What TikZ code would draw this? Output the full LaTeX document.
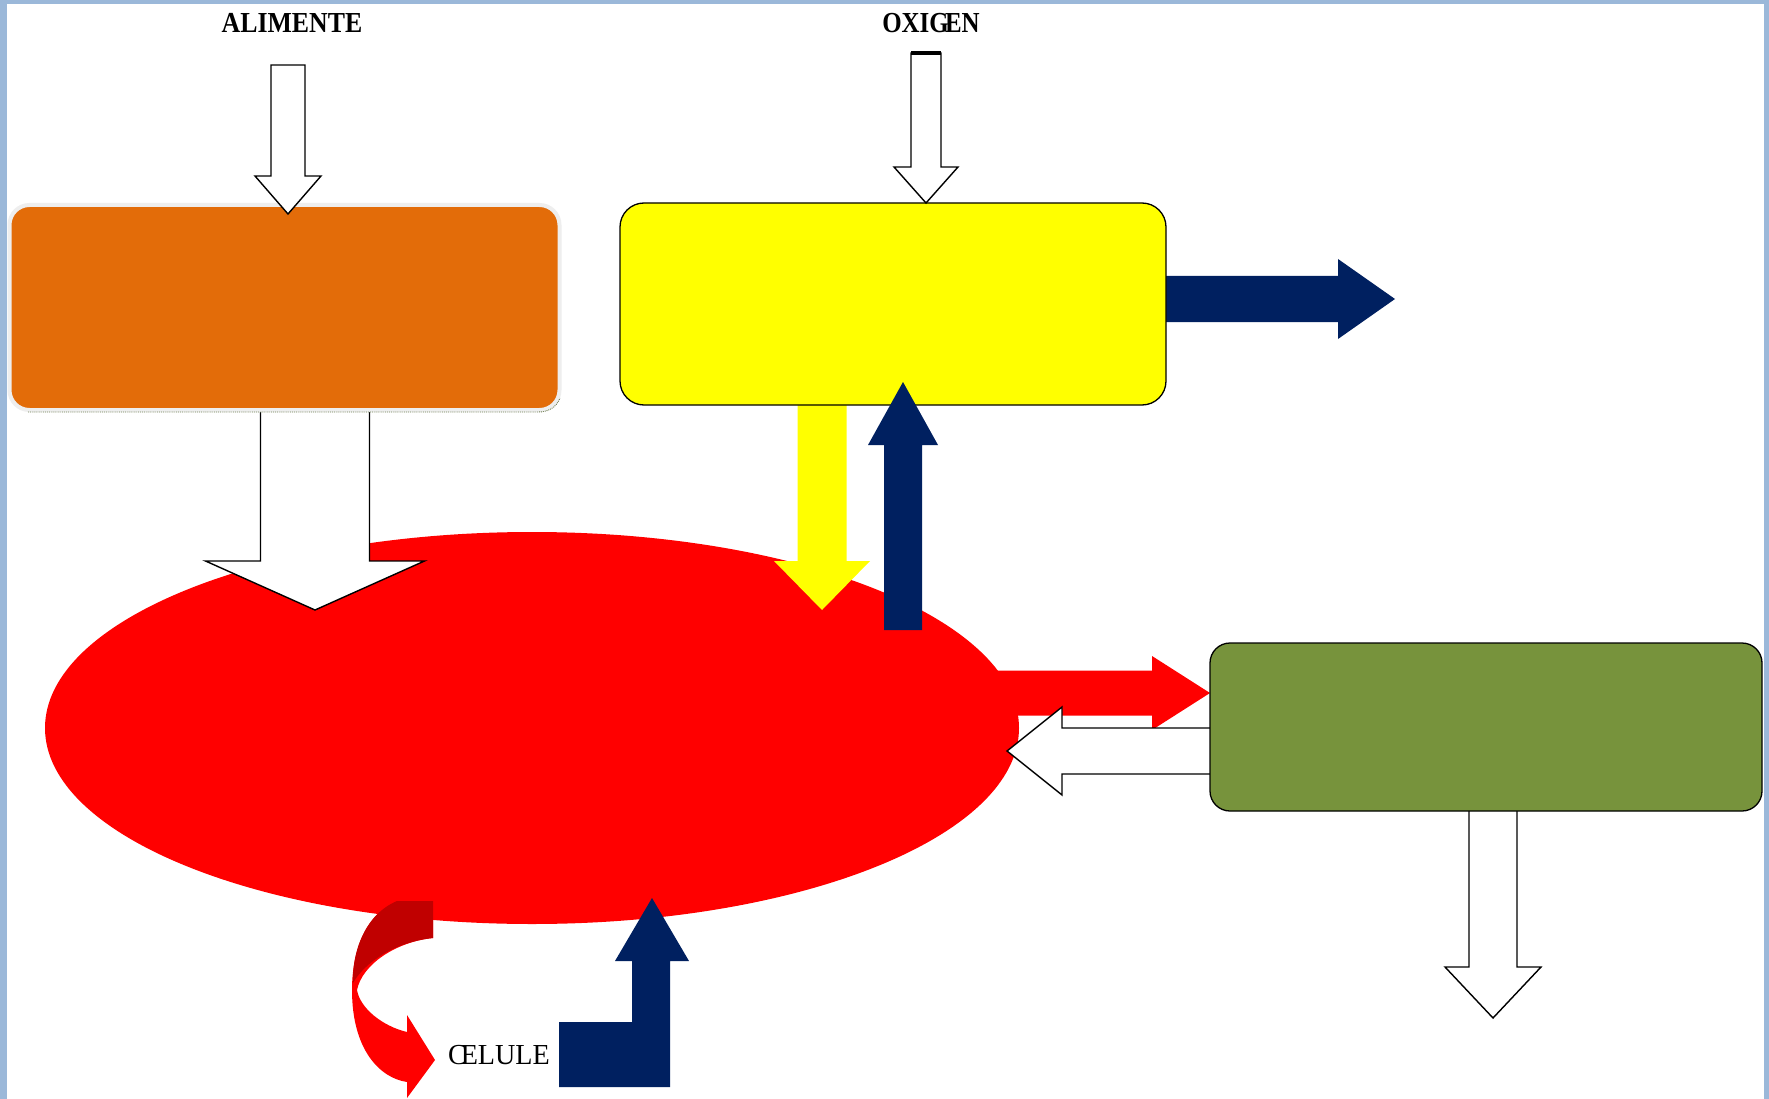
\documentclass[tikz,border=0pt]{standalone}
\usepackage{fontspec}
\setmainfont{Liberation Serif}
\usepackage{graphicx}
\usetikzlibrary{calc,shapes.geometric}
\definecolor{frameblue}{RGB}{155,184,217}
\definecolor{boxorange}{RGB}{227,108,9}
\definecolor{boxyellow}{RGB}{255,255,0}
\definecolor{boxgreen}{RGB}{119,147,60}
\definecolor{navyblue}{RGB}{0,32,96}
\definecolor{darkred}{RGB}{192,0,0}
\definecolor{rimgray}{RGB}{238,238,238}
\definecolor{rimline}{RGB}{110,125,80}

% block arrow: #1 style, #2 start, #3 tip, #4 shaft half width, #5 head half width, #6 head length
\newcommand\blockarr[6]{%
  \coordinate (ba-c) at ($(#3)!#6!(#2)$);
  \path[#1] ($(#2)!#4!90:(#3)$) -- ($(ba-c)!#4!90:(#3)$) -- ($(ba-c)!#5!90:(#3)$)
    -- (#3) -- ($(ba-c)!#5!-90:(#3)$) -- ($(ba-c)!#4!-90:(#3)$)
    -- ($(#2)!#4!-90:(#3)$) -- cycle;}

\begin{document}
\begin{tikzpicture}[x=1pt,y=-1pt,
  box/.style={rectangle, inner sep=0pt, outer sep=0pt, draw=black, line width=1.3pt},
  whitearr/.style={fill=white, draw=black, line width=1.4pt, line join=miter},
  navyarr/.style={fill=navyblue},
  yellowarr/.style={fill=boxyellow},
  redarr/.style={fill=red},
  lbl/.style={inner sep=0pt, font=\fontsize{29}{30}\selectfont}]
\useasboundingbox (0,0) rectangle (1769,1099);
\fill[frameblue] (0,0) rectangle (1769,1099);
\fill[white] (7,4) rectangle (1764,1099);

% cell blob
\node[ellipse, fill=red, inner sep=0pt, outer sep=0pt,
  minimum width=974pt, minimum height=392pt] (blob) at (532,728) {};

% curved red arrow
\fill[red] (433,901) -- (397,901) .. controls (366,914) and (352,950) .. (352,990)
  .. controls (352,1050) and (380,1078) .. (407,1082) -- (407,1098) -- (435,1060)
  -- (407,1015) -- (407,1032) .. controls (382,1026) and (360,1008) .. (357,990)
  .. controls (362,965) and (395,942) .. (433,938) -- cycle;
\fill[darkred] (433,901) -- (397,901) .. controls (366,914) and (352,950) .. (353,983)
  .. controls (365,962) and (395,942) .. (433,938) -- cycle;

% bent-up navy arrow
\fill[navyblue] (559,1022) -- (632,1022) -- (632,961) -- (615,961) -- (652,898)
  -- (689,961) -- (670,961) -- (670,1087) -- (559,1087) -- cycle;

% arrows leaving boxes (drawn below the boxes)
\coordinate (rrS) at (985,693);   \coordinate (rrT) at (1210,693);
\blockarr{redarr}{rrS}{rrT}{22.5pt}{37pt}{58pt}
\coordinate (wlS) at (1222,751);  \coordinate (wlT) at (1007,751);
\blockarr{whitearr}{wlS}{wlT}{23pt}{44pt}{55pt}
\coordinate (obS) at (315,398);   \coordinate (obT) at (315,610);
\blockarr{whitearr}{obS}{obT}{54.5pt}{109.5pt}{49pt}
\coordinate (ydS) at (822,395);   \coordinate (ydT) at (822,610);
\blockarr{yellowarr}{ydS}{ydT}{24.5pt}{48pt}{49pt}
\coordinate (nrS) at (1158,299);  \coordinate (nrT) at (1395,299);
\blockarr{navyarr}{nrS}{nrT}{23pt}{40pt}{57pt}
\coordinate (gdS) at (1493,800);  \coordinate (gdT) at (1493,1018);
\blockarr{whitearr}{gdS}{gdT}{24pt}{48pt}{51pt}

% boxes
\node[box, fill=boxorange, draw=rimgray, line width=4pt, rounded corners=20pt,
  minimum width=550pt, minimum height=205pt] (orange) at (284.5,307.5) {};
\draw[rimline, line width=0.9pt, densely dotted] (28,412) -- (538,412) .. controls (548,412) and (556,408) .. (560,398);
\node[box, fill=boxyellow, rounded corners=24pt,
  minimum width=546pt, minimum height=202pt] (yellowbox) at (893,304) {};
\node[box, fill=boxgreen, rounded corners=20pt,
  minimum width=552pt, minimum height=168pt] (greenbox) at (1486,727) {};

% arrows entering boxes (drawn above)
\coordinate (nuS) at (903,630);   \coordinate (nuT) at (903,382);
\blockarr{navyarr}{nuS}{nuT}{19pt}{35pt}{63pt}
\coordinate (alS) at (288,65);    \coordinate (alT) at (288,214);
\blockarr{whitearr}{alS}{alT}{17pt}{33pt}{38pt}
\coordinate (oxS) at (926,53);    \coordinate (oxT) at (926,203);
\blockarr{whitearr}{oxS}{oxT}{15pt}{32pt}{36pt}
\draw[line width=3.5pt] ($(oxS)+(-15,0)$) -- ($(oxS)+(15,0)$);

% labels
\node[lbl] (alimente) at (292,23) {\bfseries\scalebox{0.89}[1]{ALIMENTE}};
\node[lbl] (oxigen) at (931,23) {\bfseries\scalebox{0.86}[1]{OXIG\kern-0.15em EN}};
\node[lbl] (celule) at (499,1055) {\scalebox{0.97}[1]{C\kern-0.22em ELULE}};
\end{tikzpicture}
\end{document}
